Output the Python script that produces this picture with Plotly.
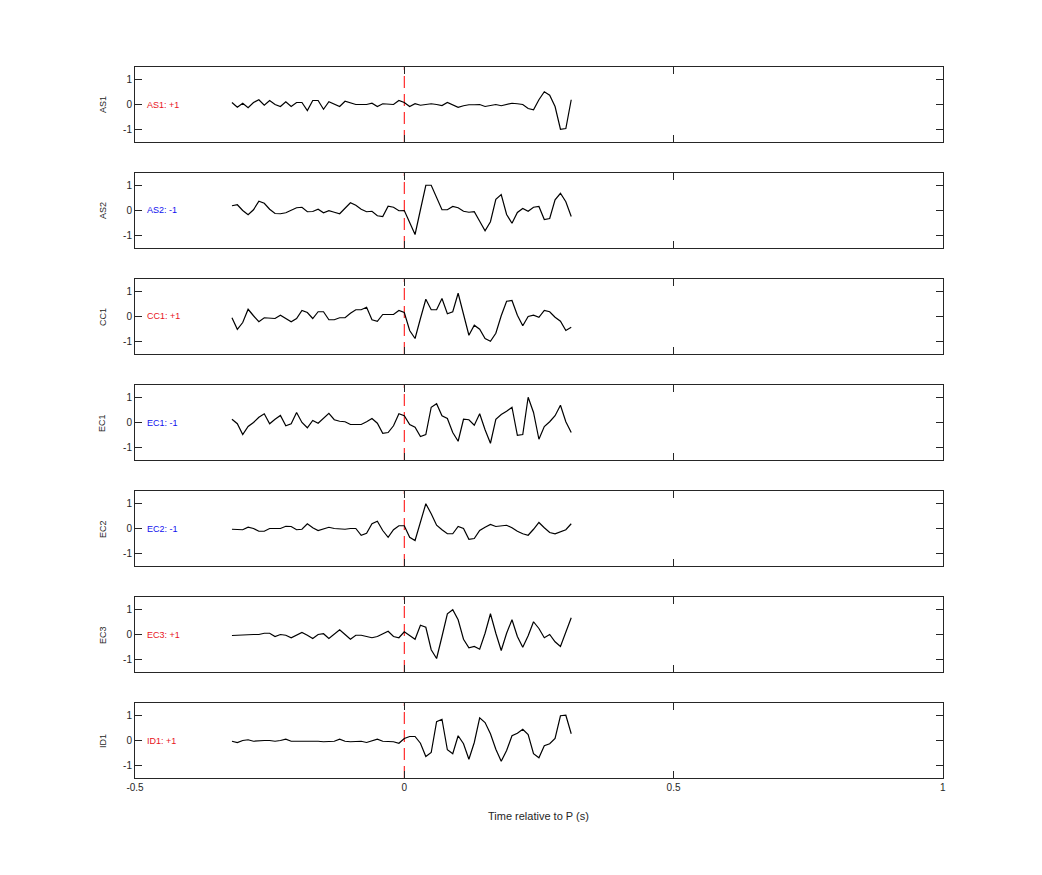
import plotly.graph_objects as go

# ---- data ----
t0 = -0.32
dt = 0.01
n_samples = 64
times = [round(t0 + dt * i, 2) for i in range(n_samples)]

stations = ["AS1", "AS2", "CC1", "EC1", "EC2", "EC3", "ID1"]
polarities = ["+1", "-1", "+1", "-1", "-1", "+1", "+1"]

AS1 = [0.08, -0.11, 0.05, -0.13, 0.08, 0.19, -0.03, 0.16, 0.0, -0.08,
       0.11, -0.08, 0.08, 0.08, -0.24, 0.16, 0.16, -0.19, 0.11, 0.0,
       -0.08, 0.13, 0.05, 0.0, 0.0, 0.0, 0.05, -0.08, 0.03, 0.03,
       0.0, 0.16, 0.08, -0.08, 0.03, -0.03, 0.0, 0.03, 0.0, -0.04,
       0.08, 0.0, -0.11, -0.05, -0.01, -0.01, 0.0, -0.08, -0.03, 0.0,
       -0.05, 0.0, 0.05, 0.03, 0.0, -0.16, -0.21, 0.19, 0.51, 0.37,
       -0.08, -0.99, -0.96, 0.19]
AS2 = [0.19, 0.23, 0.0, -0.17, 0.03, 0.37, 0.29, 0.05, -0.12, -0.13,
       -0.09, 0.0, 0.11, 0.13, -0.05, -0.04, 0.05, -0.09, -0.01, -0.07,
       -0.13, 0.09, 0.31, 0.21, 0.05, -0.05, -0.03, -0.21, -0.24, 0.17,
       0.13, -0.01, 0.0, -0.48, -0.96, 0.03, 1.01, 1.01, 0.51, 0.03,
       0.03, 0.16, 0.11, -0.03, -0.07, -0.05, -0.43, -0.81, -0.45, 0.45,
       0.64, -0.16, -0.51, -0.08, 0.08, -0.03, 0.13, 0.16, -0.36, -0.32,
       0.43, 0.69, 0.35, -0.24]
CC1 = [-0.05, -0.51, -0.24, 0.29, 0.03, -0.21, -0.05, -0.05, -0.08, 0.05,
       -0.08, -0.21, -0.08, 0.24, 0.16, -0.08, 0.19, 0.19, -0.13, -0.13,
       -0.05, -0.05, 0.13, 0.27, 0.27, 0.37, -0.13, -0.19, 0.08, 0.08,
       0.08, 0.24, 0.16, -0.56, -0.88, -0.08, 0.69, 0.27, 0.27, 0.72,
       0.11, 0.19, 0.93, 0.09, -0.75, -0.35, -0.51, -0.88, -0.99, -0.67,
       0.03, 0.61, 0.64, 0.05, -0.37, 0.0, 0.05, -0.03, 0.24, 0.19,
       -0.03, -0.19, -0.56, -0.43]
EC1 = [0.13, -0.05, -0.48, -0.16, 0.0, 0.21, 0.35, -0.05, 0.13, 0.28,
       -0.13, -0.05, 0.40, 0.0, -0.21, 0.08, -0.03, 0.19, 0.37, 0.11,
       0.05, 0.03, -0.08, -0.08, -0.08, 0.03, 0.16, -0.03, -0.43, -0.40,
       -0.13, 0.35, 0.27, -0.08, -0.19, -0.56, -0.48, 0.61, 0.75, 0.27,
       0.16, -0.40, -0.75, 0.13, 0.11, -0.11, 0.35, -0.29, -0.83, 0.13,
       0.32, 0.45, 0.61, -0.51, -0.48, 1.01, 0.40, -0.67, -0.16, 0.03,
       0.27, 0.69, 0.03, -0.40]
EC2 = [-0.03, -0.04, -0.05, 0.05, 0.0, -0.11, -0.11, 0.0, 0.0, 0.0,
       0.09, 0.08, -0.05, -0.03, 0.19, 0.03, -0.08, 0.0, 0.05, 0.0,
       -0.03, -0.03, 0.0, 0.0, -0.27, -0.19, 0.19, 0.29, -0.08, -0.35,
       -0.05, 0.11, 0.11, -0.35, -0.48, 0.27, 0.99, 0.59, 0.13, -0.05,
       -0.21, -0.21, 0.08, 0.0, -0.43, -0.40, -0.08, 0.05, 0.16, 0.08,
       0.11, 0.13, 0.03, -0.11, -0.21, -0.27, -0.03, 0.24, 0.03, -0.16,
       -0.21, -0.13, -0.05, 0.19]
EC3 = [-0.04, -0.03, 0.01, 0.0, 0.0, 0.0, 0.05, 0.05, -0.08, 0.0,
       -0.03, -0.13, -0.03, 0.08, -0.03, -0.16, 0.0, 0.03, -0.16, 0.03,
       0.19, 0.0, -0.19, -0.03, -0.03, -0.08, -0.13, -0.08, 0.03, 0.13,
       -0.08, -0.13, 0.11, -0.03, -0.19, 0.37, 0.29, -0.61, -0.96, -0.08,
       0.83, 0.99, 0.59, -0.19, -0.53, -0.48, -0.59, 0.05, 0.83, 0.05,
       -0.64, 0.05, 0.59, -0.08, -0.51, -0.05, 0.51, 0.24, -0.13, 0.0,
       -0.29, -0.48, 0.13, 0.67]
ID1 = [-0.03, -0.08, 0.0, 0.03, -0.03, 0.0, 0.0, 0.0, -0.03, 0.0,
       0.05, -0.03, -0.03, -0.01, -0.01, 0.0, -0.03, -0.05, -0.05, -0.03,
       0.05, -0.03, -0.05, -0.03, -0.03, -0.08, -0.03, 0.05, -0.03, -0.03,
       -0.05, -0.11, 0.08, 0.16, 0.16, -0.11, -0.64, -0.48, 0.75, 0.85,
       -0.37, -0.53, 0.19, -0.13, -0.75, -0.08, 0.91, 0.72, 0.27, -0.35,
       -0.83, -0.40, 0.19, 0.29, 0.45, 0.24, -0.53, -0.69, -0.21, -0.13,
       0.08, 0.99, 1.01, 0.27]
traces_data = [AS1, AS2, CC1, EC1, EC2, EC3, ID1]

x_ticks = [-0.5, 0, 0.5, 1]
x_tick_text = ["-0.5", "0", "0.5", "1"]
y_ticks = [-1, 0, 1]
y_tick_text = ["-1", "0", "1"]
x_range = [-0.5, 1.0]
y_range = [-1.5, 1.5]
x_label = "Time relative to P (s)"

# ---- layout geometry (page px -> paper) ----
W, H, OFF = 1026, 859, 8
XO, XW = 17.6, 1013.0   # observed horizontal rendering of paper coords
def px2x(X):
    return (X - XO) / XW
def py2y(Y):
    return 1 - (Y - OFF) / H

FONT = "Liberation Sans, Arial, Helvetica, sans-serif"
AXC = "#262626"
POS_C = "#e8141c"
NEG_C = "#1010ee"

fig = go.Figure()
layout = dict(
    width=W, height=H, margin=dict(l=0, r=0, t=0, b=0),
    paper_bgcolor="white", plot_bgcolor="white", showlegend=False,
    font=dict(family=FONT, size=10, color=AXC),
)
annotations = []
shapes = []
n = len(stations)
for i, (st, pol, vals) in enumerate(zip(stations, polarities, traces_data)):
    k = "" if i == 0 else str(i + 1)
    top = 67 + 106 * i
    bot = 142 + 106 * i
    fig.add_trace(go.Scatter(
        x=times, y=vals, mode="lines",
        line=dict(color="black", width=1.2),
        xaxis="x" + k, yaxis="y" + k, hoverinfo="skip"))
    last = (i == n - 1)
    layout["xaxis" + k] = dict(
        domain=[px2x(135.5), px2x(942.5)], range=x_range, anchor="y" + k,
        tickvals=x_ticks, ticktext=x_tick_text, showticklabels=last,
        ticks="inside", ticklen=7, tickcolor=AXC, tickwidth=1,
        showline=True, linecolor=AXC, linewidth=1, mirror="ticks",
        showgrid=False, zeroline=False, tickfont=dict(size=10, color=AXC),
        fixedrange=True)
    layout["yaxis" + k] = dict(
        domain=[py2y(bot), py2y(top)], range=y_range, anchor="x" + k,
        tickvals=y_ticks, ticktext=y_tick_text,
        ticks="inside", ticklen=7, tickcolor=AXC, tickwidth=1,
        showline=True, linecolor=AXC, linewidth=1, mirror="ticks",
        showgrid=False, zeroline=False, tickfont=dict(size=10, color=AXC),
        fixedrange=True)
    shapes.append(dict(
        type="line", xref="x" + k, yref="y" + k, x0=0, x1=0,
        y0=y_range[0], y1=y_range[1], layer="below",
        line=dict(color="#ff0000", width=1, dash="12px,6px")))
    annotations.append(dict(
        xref="paper", yref="paper", x=px2x(103), y=(py2y(top) + py2y(bot)) / 2,
        text=st, showarrow=False, textangle=-90, xanchor="center", yanchor="middle",
        font=dict(size=9, color=AXC)))
    col = POS_C if pol.startswith("+") else NEG_C
    annotations.append(dict(
        xref="x" + k, yref="y" + k, x=-0.481, y=0, text=f"{st}: {pol}",
        showarrow=False, xanchor="left", yanchor="middle",
        font=dict(size=9, color=col)))

annotations.append(dict(
    xref="paper", yref="paper", x=px2x(538.5), y=py2y(816),
    text=x_label, showarrow=False, xanchor="center", yanchor="middle",
    font=dict(size=11, color=AXC)))

layout["annotations"] = annotations
layout["shapes"] = shapes
fig.update_layout(**layout)
fig.write_html("out.html")
